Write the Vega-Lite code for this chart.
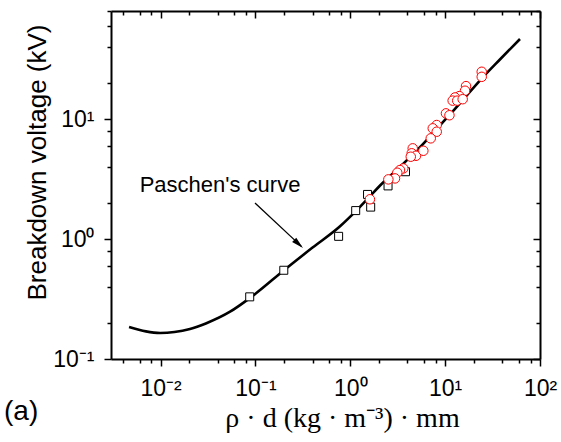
{
  "$schema": "https://vega.github.io/schema/vega-lite/v6.json",
  "width": 429,
  "height": 348,
  "autosize": "none",
  "padding": {"left": 111, "top": 11, "right": 21, "bottom": 83},
  "background": "white",
  "config": {"view": {"stroke": null}},
  "title": {"text": "(a)", "orient": "bottom", "anchor": "start", "frame": "group", "font": "Liberation Sans", "fontSize": 28, "fontWeight": "normal", "color": "black", "dx": -107, "dy": -16, "baseline": "alphabetic"},
  "datasets": {
    "curve": [
      {"x": 0.00465, "y": 0.185}, {"x": 0.007, "y": 0.170}, {"x": 0.0099, "y": 0.165}, {"x": 0.014, "y": 0.168},
      {"x": 0.0204, "y": 0.178}, {"x": 0.03, "y": 0.198}, {"x": 0.054, "y": 0.248}, {"x": 0.087, "y": 0.322},
      {"x": 0.1, "y": 0.35}, {"x": 0.2, "y": 0.55}, {"x": 0.4, "y": 0.85}, {"x": 0.78, "y": 1.28},
      {"x": 1.15, "y": 1.72}, {"x": 1.6, "y": 2.26}, {"x": 2.06, "y": 2.8}, {"x": 3.34, "y": 4.0},
      {"x": 5.43, "y": 5.85}, {"x": 8.83, "y": 8.9}, {"x": 12.1, "y": 11.7}, {"x": 25.1, "y": 22.5},
      {"x": 37.8, "y": 31.5}, {"x": 61.5, "y": 46.7}
    ],
    "squares": [
      {"x": 0.087, "y": 0.33}, {"x": 0.199, "y": 0.55}, {"x": 0.753, "y": 1.055}, {"x": 1.14, "y": 1.73},
      {"x": 1.52, "y": 2.36}, {"x": 1.64, "y": 1.85}, {"x": 2.5, "y": 2.78}, {"x": 3.82, "y": 3.65}
    ],
    "circles": [
      {"x": 24.3, "y": 24.9}, {"x": 24.3, "y": 22.6}, {"x": 16.6, "y": 18.9}, {"x": 16.2, "y": 17.3},
      {"x": 14.1, "y": 15.6}, {"x": 12.7, "y": 15.2}, {"x": 12.0, "y": 14.3}, {"x": 13.4, "y": 14.3},
      {"x": 15.3, "y": 14.7}, {"x": 10.2, "y": 11.2}, {"x": 11.1, "y": 10.8}, {"x": 8.15, "y": 8.95},
      {"x": 7.4, "y": 8.4}, {"x": 8.15, "y": 7.87}, {"x": 7.05, "y": 6.93}, {"x": 4.55, "y": 5.72},
      {"x": 4.44, "y": 5.2}, {"x": 4.93, "y": 4.96}, {"x": 4.34, "y": 4.87}, {"x": 5.89, "y": 5.46},
      {"x": 3.62, "y": 3.89}, {"x": 3.34, "y": 3.77}, {"x": 3.13, "y": 3.58}, {"x": 2.96, "y": 3.21},
      {"x": 2.52, "y": 3.15}, {"x": 1.61, "y": 2.15}
    ],
    "arrow": [{"x": 0.0989, "y": 2.0, "x2": 0.305, "y2": 0.87}],
    "arrowhead": [{"x": 0.285, "y": 0.912}],
    "note": [{"x": 0.0423, "y": 2.83, "label": "Paschen's curve"}]
  },
  "resolve": {"axis": {"x": "independent", "y": "independent"}},
  "layer": [
    {
      "data": {"name": "curve"},
      "mark": {"type": "line", "color": "black", "strokeWidth": 2.6, "interpolate": "monotone"},
      "encoding": {
        "x": {
          "field": "x", "type": "quantitative",
          "scale": {"type": "log", "domain": [0.003, 100], "nice": false},
          "axis": {
            "orient": "bottom",
            "values": [0.004, 0.006, 0.008, 0.01, 0.02, 0.04, 0.06, 0.08, 0.1, 0.2, 0.4, 0.6, 0.8, 1, 2, 4, 6, 8, 10, 20, 40, 60, 80, 100],
            "labelExpr": "abs(log(datum.value)/LN10 - round(log(datum.value)/LN10)) < 0.001 ? '10' + replace(replace(replace(replace(replace('' + round(log(datum.value)/LN10), '-', '⁻'), '0', '⁰'), '1', '¹'), '2', '²'), '3', '³') : ''",
            "tickSize": {"condition": {"test": "abs(log(datum.value)/LN10 - round(log(datum.value)/LN10)) < 0.001", "value": 7}, "value": 4},
            "tickWidth": 1.5, "tickColor": "black",
            "domainColor": "black", "domainWidth": 2,
            "labelFont": "Liberation Sans", "labelFontSize": 23, "labelColor": "black", "labelPadding": 11,
            "labelOverlap": false, "labelFlush": false, "labelBound": false,
            "grid": false,
            "title": "ρ · d  (kg · m⁻³) · mm",
            "titleFont": "Liberation Serif", "titleFontSize": 28, "titleFontWeight": "normal", "titleColor": "black",
            "titleX": 231, "titleY": 67, "titleBaseline": "alphabetic", "titleAlign": "center"
          }
        },
        "y": {
          "field": "y", "type": "quantitative",
          "scale": {"type": "log", "domain": [0.1, 80], "nice": false},
          "axis": {
            "orient": "left",
            "values": [0.2, 0.4, 0.6, 0.8, 0.1, 1, 2, 4, 6, 8, 10, 20, 40, 60, 80],
            "labelExpr": "abs(log(datum.value)/LN10 - round(log(datum.value)/LN10)) < 0.001 ? '10' + replace(replace(replace(replace(replace('' + round(log(datum.value)/LN10), '-', '⁻'), '0', '⁰'), '1', '¹'), '2', '²'), '3', '³') : ''",
            "tickSize": {"condition": {"test": "abs(log(datum.value)/LN10 - round(log(datum.value)/LN10)) < 0.001", "value": 7}, "value": 4},
            "tickWidth": 1.5, "tickColor": "black",
            "domainColor": "black", "domainWidth": 2,
            "labelFont": "Liberation Sans", "labelFontSize": 23, "labelColor": "black", "labelPadding": 10,
            "labelOverlap": false, "labelFlush": false, "labelBound": false,
            "grid": false,
            "title": "Breakdown voltage (kV)",
            "titleFont": "Liberation Sans", "titleFontSize": 26, "titleFontWeight": "normal", "titleColor": "black",
            "titleX": -66, "titleY": 151, "titleAlign": "center", "titleAngle": 270, "titleBaseline": "alphabetic"
          }
        }
      }
    },
    {
      "data": {"name": "squares"},
      "mark": {"type": "point", "shape": "square", "filled": true, "fill": "white", "stroke": "black", "strokeWidth": 1, "size": 64, "opacity": 1},
      "encoding": {
        "x": {"field": "x", "type": "quantitative", "scale": {"type": "log", "domain": [0.003, 100], "nice": false}, "axis": null},
        "y": {"field": "y", "type": "quantitative", "scale": {"type": "log", "domain": [0.1, 80], "nice": false}, "axis": null}
      }
    },
    {
      "data": {"name": "circles"},
      "mark": {"type": "point", "shape": "circle", "filled": true, "fill": "white", "stroke": "#ff0000", "strokeWidth": 1, "size": 90, "opacity": 1},
      "encoding": {
        "x": {"field": "x", "type": "quantitative", "scale": {"type": "log", "domain": [0.003, 100], "nice": false}, "axis": null},
        "y": {"field": "y", "type": "quantitative", "scale": {"type": "log", "domain": [0.1, 80], "nice": false}, "axis": null}
      }
    },
    {
      "data": {"name": "arrow"},
      "mark": {"type": "rule", "color": "black", "strokeWidth": 1.3},
      "encoding": {
        "x": {"field": "x", "type": "quantitative", "scale": {"type": "log", "domain": [0.003, 100], "nice": false}, "axis": null},
        "y": {"field": "y", "type": "quantitative", "scale": {"type": "log", "domain": [0.1, 80], "nice": false}, "axis": null},
        "x2": {"field": "x2"},
        "y2": {"field": "y2"}
      }
    },
    {
      "data": {"name": "arrowhead"},
      "mark": {"type": "point", "shape": "M0,-1L0.5,1L-0.5,1Z", "filled": true, "color": "black", "size": 144, "angle": 133, "opacity": 1},
      "encoding": {
        "x": {"field": "x", "type": "quantitative", "scale": {"type": "log", "domain": [0.003, 100], "nice": false}, "axis": null},
        "y": {"field": "y", "type": "quantitative", "scale": {"type": "log", "domain": [0.1, 80], "nice": false}, "axis": null}
      }
    },
    {
      "data": {"name": "note"},
      "mark": {"type": "text", "font": "Liberation Sans", "fontSize": 22, "color": "black", "align": "center", "baseline": "middle"},
      "encoding": {
        "x": {"field": "x", "type": "quantitative", "scale": {"type": "log", "domain": [0.003, 100], "nice": false}, "axis": null},
        "y": {"field": "y", "type": "quantitative", "scale": {"type": "log", "domain": [0.1, 80], "nice": false}, "axis": null},
        "text": {"field": "label"}
      }
    },
    {
      "data": {"name": "curve"},
      "mark": {"type": "line", "opacity": 0},
      "encoding": {
        "x": {
          "field": "x", "type": "quantitative",
          "scale": {"type": "log", "domain": [0.003, 100], "nice": false},
          "axis": {
            "orient": "bottom", "offset": -348,
            "values": [0.004, 0.006, 0.008, 0.01, 0.02, 0.04, 0.06, 0.08, 0.1, 0.2, 0.4, 0.6, 0.8, 1, 2, 4, 6, 8, 10, 20, 40, 60, 80, 100],
            "labels": false,
            "tickSize": {"condition": {"test": "abs(log(datum.value)/LN10 - round(log(datum.value)/LN10)) < 0.001", "value": 7}, "value": 4},
            "tickWidth": 1.5, "tickColor": "black",
            "domainColor": "black", "domainWidth": 2,
            "grid": false, "title": null
          }
        },
        "y": {
          "field": "y", "type": "quantitative",
          "scale": {"type": "log", "domain": [0.1, 80], "nice": false},
          "axis": {
            "orient": "left", "offset": -429,
            "values": [0.1, 0.2, 0.4, 0.6, 0.8, 1, 2, 4, 6, 8, 10, 20, 40, 60, 80],
            "labels": false,
            "tickSize": {"condition": {"test": "abs(log(datum.value)/LN10 - round(log(datum.value)/LN10)) < 0.001", "value": 7}, "value": 4},
            "tickWidth": 1.5, "tickColor": "black",
            "domainColor": "black", "domainWidth": 2,
            "grid": false, "title": null
          }
        }
      }
    }
  ]
}
